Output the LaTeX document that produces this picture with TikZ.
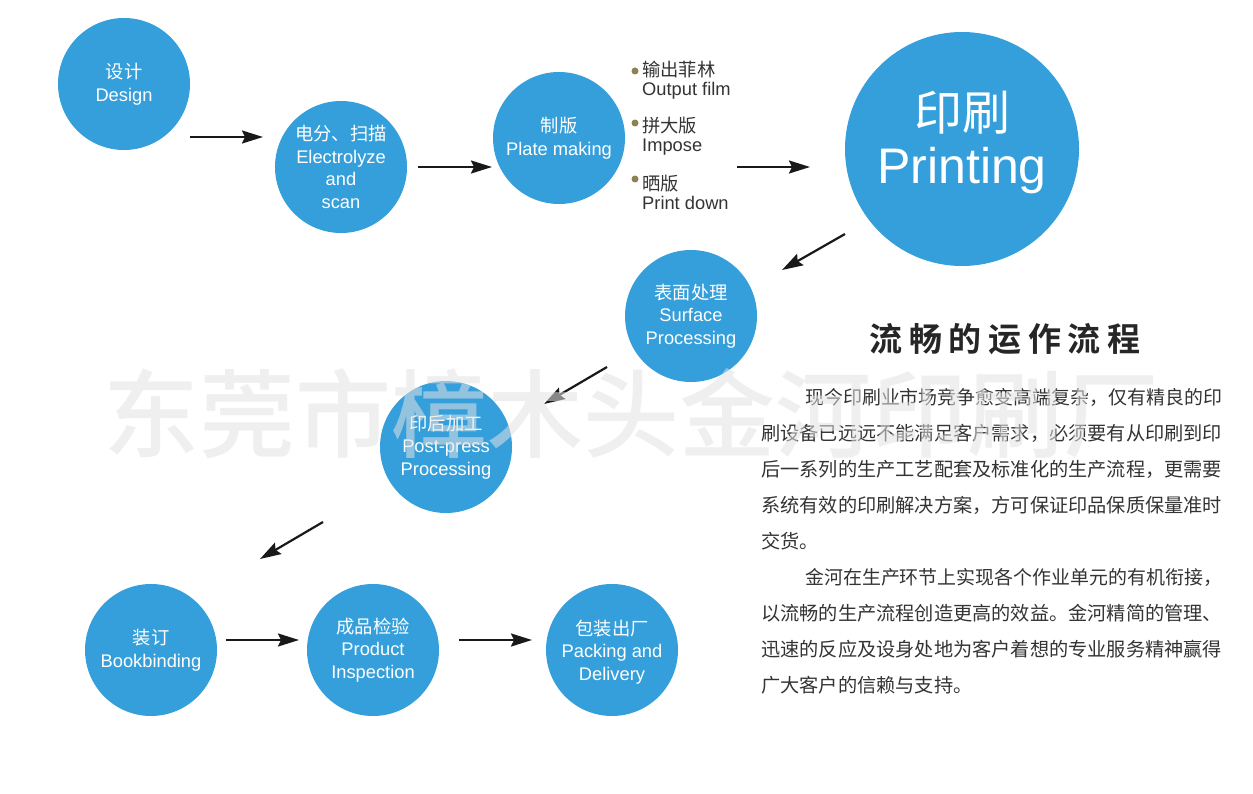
\documentclass[tikz,border=0pt]{standalone}
\usepackage{fontspec}
\setmainfont{Liberation Sans}
\newfontfamily\cjk{Noto Sans CJK SC}
\newfontfamily\cjkmed{Noto Sans CJK SC Medium}
\newfontfamily\cjktitle[LetterSpace=20]{Noto Sans CJK SC Bold}
\newcommand{\zh}[1]{{\cjk #1}}
\usetikzlibrary{arrows.meta}
\definecolor{discblue}{HTML}{349FDB}
\definecolor{bodygray}{HTML}{333333}
\definecolor{bulletc}{HTML}{8F8058}
\definecolor{markc}{HTML}{E2E2E2}
\tikzset{
  disc/.style={circle,fill=discblue,text=white,inner sep=0pt,minimum size=132pt,align=center,
    font=\fontsize{18.3}{22.5}\selectfont},
  bigdisc/.style={circle,fill=discblue,inner sep=0pt,minimum size=234pt},
  disctext/.style={inner sep=0pt,text=white,align=center,font=\fontsize{18.3}{22.5}\selectfont},
  flow/.style={line width=2.2pt,black!90,-{Stealth[length=21pt,width=13pt,inset=3pt]}},
  bullet/.style={circle,fill=bulletc,inner sep=0pt,minimum size=7pt},
  sidetext/.style={anchor=west,inner sep=0pt,text=bodygray,align=left,font=\fontsize{18.3}{19}\selectfont},
  bodyline/.style={anchor=west,inner sep=0pt,text=bodygray,font=\cjk\fontsize{19.2}{20}\selectfont},
  bodyfirst/.style={bodyline,font=\cjk\fontsize{18.95}{20}\selectfont},
  titlenode/.style={anchor=center,inner sep=0pt,text=black!85,font=\cjktitle\fontsize{33}{34}\selectfont},
  watermark/.style={anchor=center,inner sep=0pt,text=markc,text opacity=0.55,font=\cjkmed\fontsize{96}{100}\selectfont},
}
\begin{document}
\begin{tikzpicture}[x=1pt,y=-1pt]
\useasboundingbox (0,0) rectangle (1253,794);
\node[disc] (design) at (124,84) {\zh{设计}\\Design};
\node[disc] (scan) at (341,167) {\zh{电分、扫描}\\Electrolyze\\and\\scan};
\node[disc] (plate) at (559,138) {\zh{制版}\\Plate making};
\node[bigdisc] (print) at (962,149) {};
\node[disctext] (printlabel) at (962,142) {\fontsize{48}{48}\selectfont\zh{印刷}\\[12pt]\fontsize{50}{50}\selectfont Printing};
\node[disc] (surface) at (691,316) {\zh{表面处理}\\Surface\\Processing};
\node[disc] (post) at (446,447) {\zh{印后加工}\\Post-press\\Processing};
\node[disc] (bind) at (151,650) {\zh{装订}\\Bookbinding};
\node[disc] (inspect) at (373,650) {\zh{成品检验}\\Product\\Inspection};
\node[disc] (pack) at (612,650) {};
\node[disctext] (packlabel) at (612,652) {\zh{包装出厂}\\Packing and\\Delivery};

\node[bullet] (b1) at (635,71) {};
\node[bullet] (b2) at (635,123) {};
\node[bullet] (b3) at (635,179) {};
\node[sidetext] (s1) at (642,80) {\zh{输出菲林}\\Output film};
\node[sidetext] (s2) at (642,136) {\zh{拼大版}\\Impose};
\node[sidetext] (s3) at (642,192) {\zh{晒版}\\Print down};

\coordinate (a1s) at (190,137); \coordinate (a1e) at (263,137);
\coordinate (a2s) at (418,167); \coordinate (a2e) at (492,167);
\coordinate (a3s) at (737,167); \coordinate (a3e) at (810,167);
\coordinate (a4s) at (845,234); \coordinate (a4e) at (782,270);
\coordinate (a5s) at (607,367); \coordinate (a5e) at (544,404);
\coordinate (a6s) at (323,522); \coordinate (a6e) at (260,559);
\coordinate (a7s) at (226,640); \coordinate (a7e) at (299,640);
\coordinate (a8s) at (459,640); \coordinate (a8e) at (532,640);
\foreach \i in {1,...,8} \draw[flow] (a\i s) -- (a\i e);

\node[titlenode] (title) at (1005,339) {流畅的运作流程};
\node[bodyfirst] (l1) at (805,397) {现今印刷业市场竞争愈变高端复杂，仅有精良的印};
\node[bodyline] (l2) at (761,433) {刷设备已远远不能满足客户需求，必须要有从印刷到印};
\node[bodyline] (l3) at (761,469) {后一系列的生产工艺配套及标准化的生产流程，更需要};
\node[bodyline] (l4) at (761,505) {系统有效的印刷解决方案，方可保证印品保质保量准时};
\node[bodyline] (l5) at (761,541) {交货。};
\node[bodyfirst] (l6) at (805,577) {金河在生产环节上实现各个作业单元的有机衔接，};
\node[bodyline] (l7) at (761,613) {以流畅的生产流程创造更高的效益。金河精简的管理、};
\node[bodyline] (l8) at (761,649) {迅速的反应及设身处地为客户着想的专业服务精神赢得};
\node[bodyline] (l9) at (761,685) {广大客户的信赖与支持。};

\node[watermark] (mark) at (631,414) {东莞市樟木头金河印刷厂};
\end{tikzpicture}
\end{document}
